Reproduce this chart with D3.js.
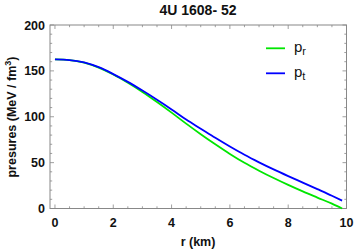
<!DOCTYPE html>
<html><head><meta charset="utf-8">
<script src="https://cdn.jsdelivr.net/npm/d3@7"></script>
<style>body{margin:0;background:#fff;} svg{display:block;}</style>
</head><body>
<svg id="c" width="354" height="252"></svg>
<script>
const title = "4U 1608- 52";
const xLabel = "r (km)";
const rValues = [0,0.5,1,1.5,2,2.5,3,3.5,4,4.5,5,5.5,6,6.5,7,7.5,8,8.5,9,9.5,9.85];
const prValues = [162.5,161.8,159,153.5,146,137,127,116,104.5,92.5,81,70,59.5,49.8,41.2,33.2,25.7,18.6,11.9,5.3,0];
const ptValues = [162.5,161.8,159.3,154,146.5,138,128.5,118.5,108,97,87,77,67.5,58.5,50.3,42.6,35.3,28.2,21.1,13.9,8.6];
const xTicks = [0,2,4,6,8,10];
const yTicks = [0,50,100,150,200];
const seriesNames = ["r","t"];
const seriesColors = ["#00e600","#0000ff"];

const svg = d3.select("#c");
const L=50,R=346.5,T=25,B=208.5;
const x = d3.scaleLinear().domain([-0.17,10]).range([L,R]);
const y = d3.scaleLinear().domain([0,200]).range([B,T]);
const frameCol="#888";
const font="'Liberation Sans', Arial, sans-serif";

svg.append("rect").attr("x",L).attr("y",T).attr("width",R-L).attr("height",B-T)
  .attr("fill","none").attr("stroke",frameCol).attr("stroke-width",1);

const xMinor = d3.range(0,10.01,0.5);
const yMinor = d3.range(0,200.1,10);
const g = svg.append("g").attr("stroke",frameCol).attr("stroke-width",0.8);
xMinor.forEach(v=>{
  const major = xTicks.includes(v);
  const len = major?4:2.2;
  g.append("line").attr("x1",x(v)).attr("x2",x(v)).attr("y1",B).attr("y2",B-len);
  g.append("line").attr("x1",x(v)).attr("x2",x(v)).attr("y1",T).attr("y2",T+len);
});
yMinor.forEach(v=>{
  const major = yTicks.includes(v);
  const len = major?4:2.2;
  g.append("line").attr("y1",y(v)).attr("y2",y(v)).attr("x1",L).attr("x2",L+len);
  g.append("line").attr("y1",y(v)).attr("y2",y(v)).attr("x1",R).attr("x2",R-len);
});

svg.append("g").selectAll("text").data(xTicks).join("text")
  .attr("x",d=>x(d)).attr("y",B+18).attr("text-anchor","middle")
  .attr("font-family",font).attr("font-weight","bold").attr("font-size",12.5).attr("fill","#111")
  .text(d=>d);
svg.append("g").selectAll("text").data(yTicks).join("text")
  .attr("x",L-5).attr("y",d=>y(d)+4.5).attr("text-anchor","end")
  .attr("font-family",font).attr("font-weight","bold").attr("font-size",12.5).attr("fill","#111")
  .text(d=>d);

svg.append("text").attr("x",198).attr("y",15).attr("text-anchor","middle")
  .attr("font-family",font).attr("font-weight","bold").attr("font-size",14).attr("fill","#111").text(title);
svg.append("text").attr("x",198).attr("y",246).attr("text-anchor","middle")
  .attr("font-family",font).attr("font-weight","bold").attr("font-size",12.5).attr("fill","#111").text(xLabel);
const yl = svg.append("text").attr("transform","translate(16,117) rotate(-90)").attr("text-anchor","middle")
  .attr("font-family",font).attr("font-weight","bold").attr("font-size",12.5).attr("fill","#111");
yl.append("tspan").text("presures (MeV / fm");
yl.append("tspan").attr("dy",-5).attr("font-size",9).text("3");
yl.append("tspan").attr("dy",5).text(")");

const line = d3.line().x(d=>x(d[0])).y(d=>y(d[1])).curve(d3.curveMonotoneX);
const series = [prValues, ptValues];
series.forEach((vals,i)=>{
  svg.append("path").datum(rValues.map((r,j)=>[r,vals[j]]))
    .attr("d",line).attr("fill","none").attr("stroke",seriesColors[i]).attr("stroke-width",1.8);
});

const legY=[48.3,73.3];
seriesNames.forEach((n,i)=>{
  svg.append("line").attr("x1",266).attr("x2",285).attr("y1",legY[i]).attr("y2",legY[i])
    .attr("stroke",seriesColors[i]).attr("stroke-width",1.8);
  const t = svg.append("text").attr("x",294).attr("y",legY[i]+4).attr("font-family",font)
    .attr("font-size",15).attr("fill","#111");
  t.append("tspan").text("p");
  t.append("tspan").attr("dy",3).attr("font-size",11).text(n);
});
</script>
</body></html>
